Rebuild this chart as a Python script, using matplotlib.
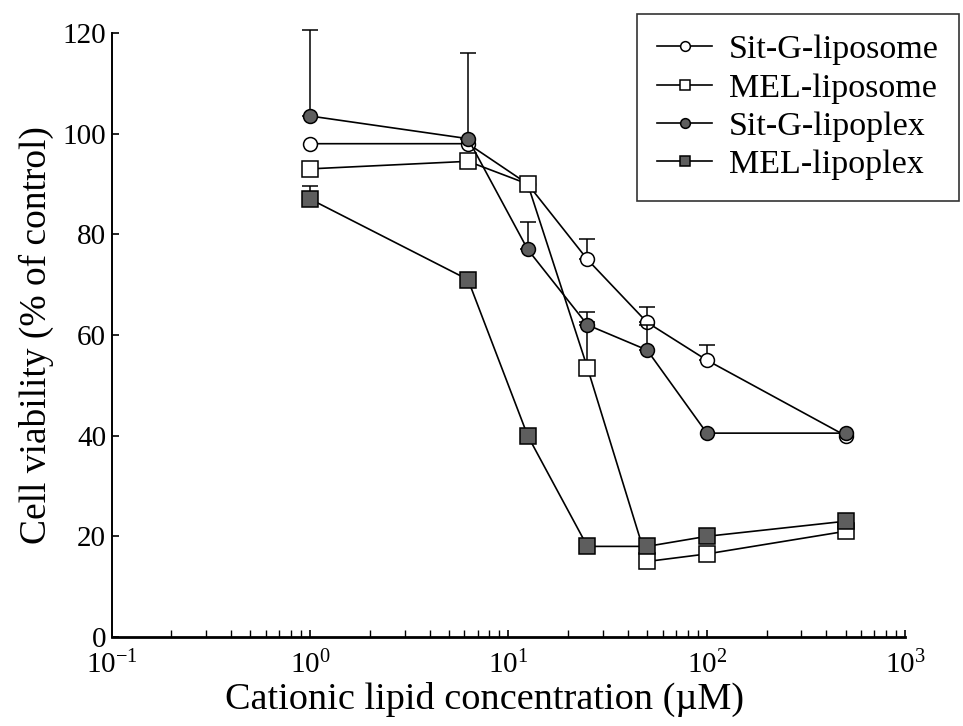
import numpy as np
import matplotlib
matplotlib.use("Agg")
import matplotlib.pyplot as plt
from matplotlib.ticker import LogLocator, FixedLocator, NullFormatter

plt.rcParams['font.family'] = ['Liberation Serif', 'DejaVu Serif']
plt.rcParams['mathtext.fontset'] = 'custom'
plt.rcParams['mathtext.rm'] = 'Liberation Serif'
plt.rcParams['mathtext.it'] = 'Liberation Serif'

# concentration (uM)
conc = [1, 6.25, 12.5, 25, 50, 100, 500]

# cell viability, % of control
sitg_liposome = [98, 98, 90, 75, 62.5, 55, 40]
mel_liposome = [93, 94.5, 90, 53.5, 15, 16.5, 21]
sitg_lipoplex = [103.5, 99, 77, 62, 57, 40.5, 40.5]
mel_lipoplex = [87, 71, 40, 18, 18, 20, 23]

# upper error bars only (0 = none visible)
err_sitg_liposome = [0, 0, 0, 4, 3, 3, 0]
err_mel_liposome = [0, 0, 0, 9, 0, 0, 0]
err_sitg_lipoplex = [17, 17, 5.5, 2.5, 5, 0, 0]
err_mel_lipoplex = [2.5, 0, 0, 0, 0, 0, 0]

labels = ["Sit-G-liposome", "MEL-liposome", "Sit-G-lipoplex", "MEL-lipoplex"]

fig = plt.figure(figsize=(9.63, 7.26), dpi=100)
ax = fig.add_axes([0.116, 0.1226, 0.824, 0.832])

grey = "#5e5e5e"
series = [
    (sitg_liposome, err_sitg_liposome, "o", "white", 10),
    (mel_liposome, err_mel_liposome, "s", "white", 11),
    (sitg_lipoplex, err_sitg_lipoplex, "o", grey, 10),
    (mel_lipoplex, err_mel_lipoplex, "s", grey, 11),
]

x = np.array(conc)
for i, (vals, err, mk, fc, ms) in enumerate(series):
    y = np.array(vals)
    e = np.array(err)
    sel = e > 0
    if sel.any():
        ax.errorbar(x[sel], y[sel], yerr=[np.zeros(sel.sum()), e[sel]],
                    fmt="none", ecolor="black", elinewidth=1.1,
                    capsize=5.5, capthick=1.1, zorder=2 + i, clip_on=False)
    ax.plot(x, y, color="black", lw=1.2, marker=mk, markersize=ms,
            markerfacecolor=fc, markeredgecolor="black", markeredgewidth=1.1,
            label=labels[i], zorder=3 + i)

ax.set_xscale("log")
ax.set_xlim(0.1, 1000)
ax.set_ylim(0, 120)
ax.set_yticks([0, 20, 40, 60, 80, 100, 120])
ax.xaxis.set_major_locator(FixedLocator([0.1, 1, 10, 100, 1000]))
ax.set_xticklabels([r"$10^{-1}$", r"$10^{0}$", r"$10^{1}$", r"$10^{2}$", r"$10^{3}$"])
ax.xaxis.set_minor_locator(LogLocator(base=10, subs=np.arange(2, 10), numticks=20))
ax.xaxis.set_minor_formatter(NullFormatter())

for s in ["top", "right"]:
    ax.spines[s].set_visible(False)
ax.spines["left"].set_linewidth(1.4)
ax.spines["bottom"].set_linewidth(2.0)

ax.tick_params(axis="both", which="major", direction="in", length=5, width=1.2,
               labelsize=21)
ax.tick_params(axis="x", which="minor", direction="in", length=5, width=1.0)
ax.tick_params(axis="x", which="major", pad=10)
ax.tick_params(axis="y", which="major", pad=4)

ax.set_xlabel("Cationic lipid concentration (\u00b5M)", fontsize=27.5)
ax.xaxis.set_label_coords(0.47, -0.075)
ax.set_ylabel("Cell viability (% of control)", fontsize=27, labelpad=6)

leg = ax.legend(loc="upper left", bbox_to_anchor=(637 / 963, 1 - 14 / 726),
                bbox_transform=fig.transFigure, fontsize=24.5, frameon=True,
                fancybox=False, edgecolor="black", handlelength=1.6,
                handletextpad=0.5, labelspacing=0.22, borderpad=0.6,
                borderaxespad=0)
leg.get_frame().set_linewidth(1.2)
for h in leg.legend_handles:
    h.set_markersize(7)

fig.savefig("out.png", dpi=100)
